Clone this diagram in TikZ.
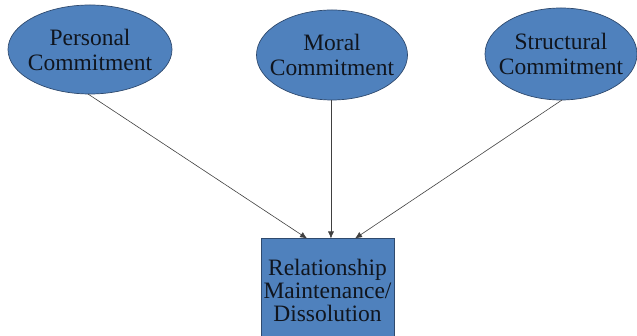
\documentclass[tikz,border=0pt]{standalone}
\usepackage{fontspec}
\setmainfont{Liberation Serif}
\usetikzlibrary{arrows.meta,calc,shapes.geometric}

\definecolor{boxblue}{HTML}{4F81BD}
\definecolor{rimblue}{HTML}{2F4A6E}
\definecolor{inkdark}{HTML}{10151E}

\tikzset{
	commit/.style = {ellipse, draw=rimblue, fill=boxblue, line width=0.7pt,
		inner xsep=-20pt, inner ysep=-10pt, outer sep=0pt, align=center, text=inkdark,
		font=\fontsize{23.5}{25}\selectfont},
	outcome/.style = {rectangle, draw=rimblue, fill=boxblue, line width=0.7pt,
		inner sep=0pt, outer sep=0pt, align=center, text=inkdark,
		minimum width=133pt, minimum height=103pt,
		font=\fontsize{23.5}{23}\selectfont},
	link/.style = {draw=black!75, line width=0.6pt, -{Latex[length=7pt,width=6pt]}}
}

\begin{document}
\begin{tikzpicture}[x=1pt, y=1pt]
		\useasboundingbox (0,0) rectangle (637,336);
		\begin{scope}
		\clip (0,0) rectangle (637,336);
		% the three kinds of commitment
		\node[commit, minimum width=164pt, minimum height=89pt] (personal) at (90,286.5) {Personal\\Commitment};
		\node[commit, minimum width=151pt, minimum height=90pt] (moral) at (332,281) {Moral\\Commitment};
		\node[commit, minimum width=152pt, minimum height=92pt] (structural) at (561,282) {Structural\\Commitment};
		% outcome
		\node[outcome] (relation) at (327.5,46) {Relationship\\Maintenance/\\Dissolution};
		\coordinate (inL) at ($(relation.north west)!0.346!(relation.north east)$);
		\coordinate (inM) at ($(relation.north west)!0.526!(relation.north east)$);
		\coordinate (inR) at ($(relation.north west)!0.707!(relation.north east)$);
		\draw[link] ($(personal.south)+(-2,0)$) -- (inL);
		\draw[link] (moral.south -| inM) -- (inM);
		\draw[link] ($(structural.south)+(1,0)$) -- (inR);
		\end{scope}
	\end{tikzpicture}
\end{document}
